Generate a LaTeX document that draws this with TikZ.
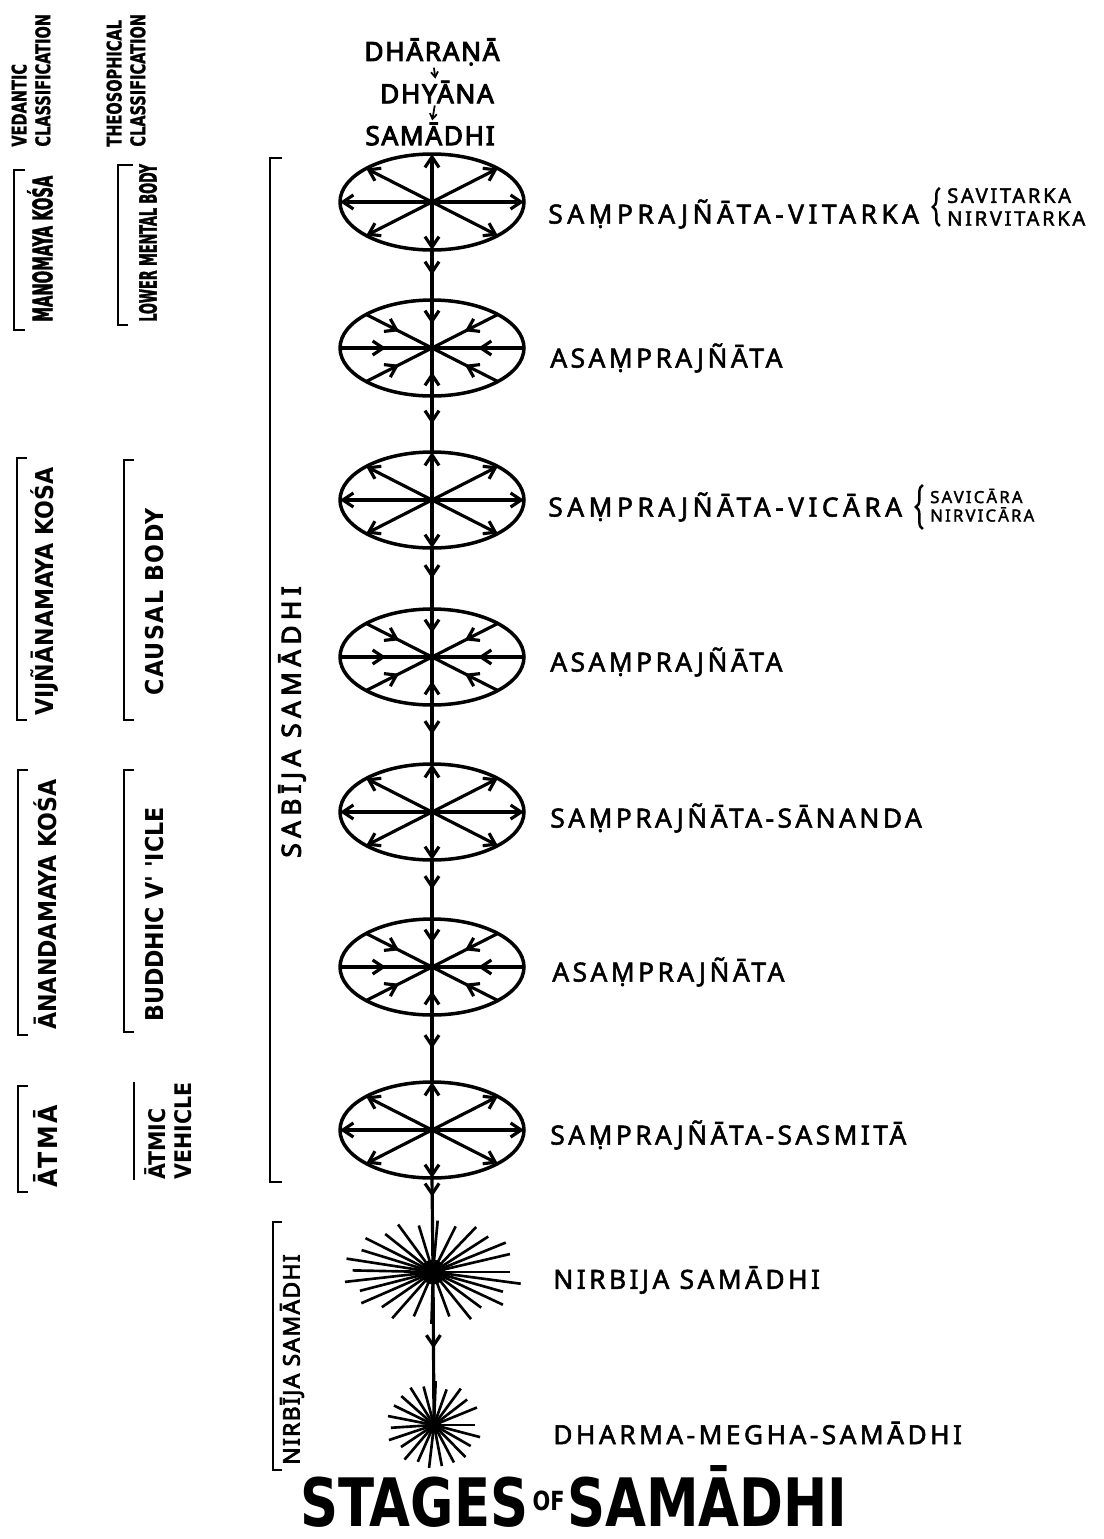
\documentclass[tikz,border=0pt]{standalone}
\usepackage{fontspec}
\setmainfont{Noto Sans}
\newfontfamily\stagefont{Noto Sans}[LetterSpace=13,FakeBold=2]
\newfontfamily\headfont{Noto Sans}[LetterSpace=6,FakeBold=3.5]
\newfontfamily\sidefont{DejaVu Sans Condensed}
\newfontfamily\tightfont{DejaVu Sans Condensed}[FakeStretch=0.6,FakeBold=1.5]
\newfontfamily\classfont{DejaVu Sans Condensed}[FakeStretch=0.8,FakeBold=1]
\newfontfamily\titlefont{DejaVu Sans Condensed}[FakeStretch=0.88]
\usetikzlibrary{arrows.meta,shapes.geometric,decorations.markings,decorations.pathreplacing,positioning}

\tikzset{
  >={Straight Barb[length=6pt,width=8pt]},
  spoke/.style={line width=1.8pt},
  midarrow/.style={spoke,postaction={decorate},decoration={markings,mark=at position #1 with {\arrow{>}}}},
  midarrow/.default=0.5,
  stage/.style={ellipse,draw,line width=2pt,minimum width=3.68cm,minimum height=1.92cm,inner sep=0pt,outer sep=0pt},
  blob/.style={circle,fill,inner sep=0pt,outer sep=0pt},
  ray/.style={line width=1.5pt},
  stagelabel/.style={anchor=west,inner sep=0pt,font=\stagefont\fontsize{15}{18}\selectfont},
  widelabel/.style={stagelabel,font=\stagefont\fontsize{15}{18}\selectfont\addfontfeature{LetterSpace=17}},
  sublabel/.style={anchor=west,inner sep=0pt,align=left,font=\stagefont\fontsize{11.5}{13}\selectfont},
  headlabel/.style={inner sep=1pt,font=\headfont\fontsize{15}{18}\selectfont},
  sidelabel/.style={rotate=90,anchor=west,inner sep=0pt,align=left,font=\sidefont\bfseries\fontsize{14}{16}\selectfont},
  tightlabel/.style={rotate=90,anchor=west,inner sep=0pt,align=left,font=\tightfont\bfseries\fontsize{15.5}{17}\selectfont},
  classlabel/.style={rotate=90,anchor=west,inner sep=0pt,align=left,font=\classfont\bfseries\fontsize{11.5}{13.5}\selectfont},
  titlelabel/.style={anchor=base west,inner sep=0pt,font=\titlefont\bfseries\fontsize{38}{40}\selectfont},
  bracket/.style={line width=1.6pt},
  brace/.style={line width=1.4pt,decorate,decoration={brace,amplitude=4pt}},
}

\begin{document}
\begin{tikzpicture}[x=0.02cm,y=-0.02cm]
\useasboundingbox (0,0) rectangle (1104,1539);

% the three steps on top
\node[headlabel] (dharana) at (432,52) {DHĀRAṆĀ};
\node[headlabel] (dhyana) at (437,92) {DHYĀNA};
\node[headlabel] (samadhi) at (430,134) {SAMĀDHI};
\draw[line width=1pt,->,>={Straight Barb[length=3pt,width=4pt]}] (dharana) -- (dhyana);
\draw[line width=1pt,->,>={Straight Barb[length=3pt,width=4pt]}] (dhyana) -- (samadhi);

% stages
\node[stage] (e1) at (432,202) {};
\node[stage] (e2) at (432,348) {};
\node[stage] (e3) at (432,500) {};
\node[stage] (e4) at (432,657) {};
\node[stage] (e5) at (432,812) {};
\node[stage] (e6) at (432,967) {};
\node[stage] (e7) at (432,1130) {};
\node[blob,minimum size=0.5cm] (s1) at (433,1272) {};
\node[blob,minimum size=0.3cm] (s2) at (434,1425) {};

\foreach \e in {e1,e3,e5,e7}
  \foreach \a in {0,27,90,153,180,207,270,333}
    \draw[spoke,->] (\e.center) -- (\e.\a);
\foreach \e in {e2,e4,e6}
  \foreach \a in {0,27,90,153,180,207,270,333}
    \draw[midarrow] (\e.\a) -- (\e.center);

\foreach \a/\b in {e1/e2,e2/e3,e3/e4,e4/e5,e5/e6,e6/e7}
  \draw[midarrow] (\a.south) -- (\b.north);
\draw[midarrow=0.2] (e7.south) -- (s1.center);
\draw[midarrow] (s1.center) -- (s2.center);

% the two bursts
\foreach \a in {0,13,...,350}{
  \pgfmathsetmacro\f{0.86+0.14*abs(sin(\a*7))}
  \draw[ray] (s1.center) -- ++({90*\f*cos(\a)},{52*\f*sin(\a)});
}
\foreach \a in {0,16,...,350}{
  \pgfmathsetmacro\f{0.85+0.15*abs(sin(\a*5))}
  \draw[ray] (s2.center) -- ++({48*\f*cos(\a)},{44*\f*sin(\a)});
}

% names of the stages
\node[widelabel] (vit) at (548,214) {SAṂPRAJÑĀTA-VITARKA};
\node[sublabel,right=0.55cm of vit,yshift=4pt] (vitsub) {SAVITARKA\\NIRVITARKA};
\draw[brace] ([xshift=-4pt]vitsub.south west) -- ([xshift=-4pt]vitsub.north west);
\node[stagelabel] (asam1) at (550,358) {ASAṂPRAJÑĀTA};
\node[widelabel] (vic) at (548,507) {SAṂPRAJÑĀTA-VICĀRA};
\node[sublabel,font=\stagefont\fontsize{9.5}{10.5}\selectfont,right=0.55cm of vic,yshift=1pt] (vicsub) {SAVICĀRA\\NIRVICĀRA};
\draw[brace] ([xshift=-4pt,yshift=-4pt]vicsub.south west) -- ([xshift=-4pt,yshift=2pt]vicsub.north west);
\node[stagelabel] (asam2) at (550,662) {ASAṂPRAJÑĀTA};
\node[stagelabel] (san) at (550,818) {SAṂPRAJÑĀTA-SĀNANDA};
\node[stagelabel] (asam3) at (552,972) {ASAṂPRAJÑĀTA};
\node[stagelabel] (sas) at (550,1135) {SAṂPRAJÑĀTA-SASMITĀ};
\node[stagelabel] (nirb) at (553,1280) {NIRBIJA SAMĀDHI};
\node[stagelabel] (dharma) at (553,1433) {DHARMA-MEGHA-SAMĀDHI};

% vedantic column
\node[classlabel] (vedantic) at (31,147) {VEDANTIC\\CLASSIFICATION};
\draw[bracket] (25,170) -- (14,170) -- (14,330) -- (25,330);
\node[tightlabel] (manomaya) at (40,322) {MANOMAYA KOŚA};
\draw[bracket] (27,458) -- (17,458) -- (17,720) -- (27,720);
\node[sidelabel] (vijnana) at (45,716) {VIJÑĀNAMAYA KOŚA};
\draw[bracket] (28,770) -- (18,770) -- (18,1035) -- (28,1035);
\node[sidelabel] (ananda) at (45,1030) {ĀNANDAMAYA KOŚA};
\draw[bracket] (28,1086) -- (18,1086) -- (18,1192) -- (28,1192);
\node[sidelabel,font=\sidefont\bfseries\fontsize{15}{16}\selectfont\addfontfeature{LetterSpace=10}] (atma) at (45,1188) {ĀTMĀ};

% theosophical column
\node[classlabel] (theo) at (126,147) {THEOSOPHICAL\\CLASSIFICATION};
\draw[bracket] (133,165) -- (118,165) -- (118,325) -- (128,325);
\node[tightlabel,font=\tightfont\bfseries\fontsize{13.5}{15}\selectfont] (lower) at (148,322) {LOWER MENTAL BODY};
\draw[bracket] (134,460) -- (124,460) -- (124,720) -- (134,720);
\node[sidelabel,font=\sidefont\bfseries\fontsize{14}{16}\selectfont\addfontfeature{LetterSpace=6}] (causal) at (155,696) {CAUSAL BODY};
\draw[bracket] (134,770) -- (124,770) -- (124,1032) -- (134,1032);
\node[sidelabel] (buddhic) at (155,1022) {BUDDHIC V' 'ICLE};
\draw[bracket] (134,1082) -- (134,1180);
\node[sidelabel,font=\sidefont\bfseries\fontsize{13}{15}\selectfont] (atmic) at (168,1180) {ĀTMIC\\VEHICLE};

% sabija and nirbija
\draw[bracket] (282,158) -- (270,158) -- (270,1182) -- (282,1182);
\node[sidelabel,anchor=center,font=\headfont\fontsize{15}{18}\selectfont\addfontfeature{LetterSpace=20}] (sabija) at (292,722) {SABĪJA SAMĀDHI};
\draw[bracket] (282,1222) -- (273,1222) -- (273,1470) -- (282,1470);
\node[sidelabel,font=\headfont\fontsize{13}{15}\selectfont] (nirbija) at (292,1465) {NIRBĪJA SAMĀDHI};

% title
\node[titlelabel] (tstages) at (300,1526) {STAGES};
\node[titlelabel,font=\titlefont\bfseries\fontsize{15}{16}\selectfont] (tof) at ([xshift=2pt,yshift=9pt]tstages.base east) {OF};
\node[titlelabel] (tsam) at ([xshift=1pt]tof.base east |- tstages.base) {SAMĀDHI};
\end{tikzpicture}
\end{document}
